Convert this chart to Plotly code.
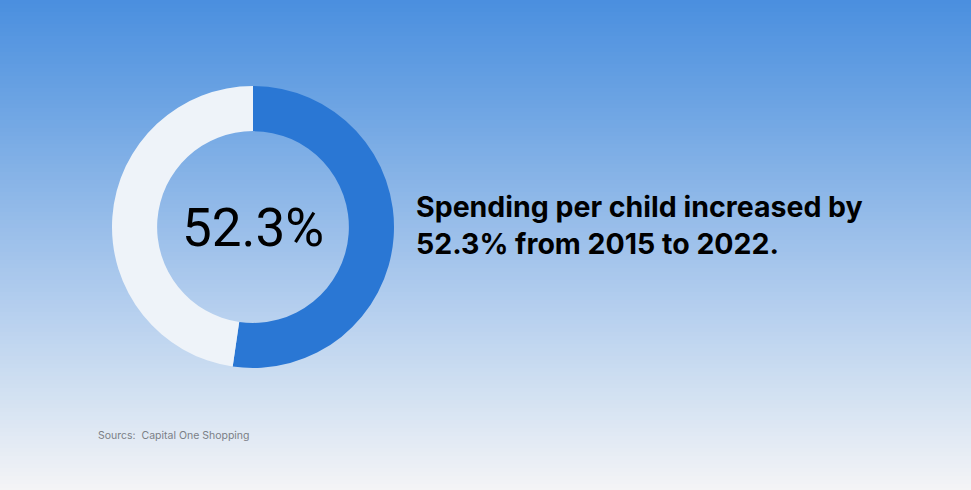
import plotly.graph_objects as go

labels = ["Increase", "Remainder"]
values = [52.3, 47.7]
colors = ["#2a77d4", "#eef3f9"]
center_label = "52.3%"
headline = "Spending per child increased by<br>52.3% from 2015 to 2022."
source = "Sourcs:  Capital One Shopping"

W, H = 971, 490

# background gradient stops (y pixel from top, rgb)
stops = [(0, (74, 143, 223)), (100, (107, 163, 227)), (200, (143, 184, 232)),
         (300, (178, 205, 238)), (400, (212, 226, 242)), (490, (244, 244, 246))]

def col_at(y):
    for (y0, c0), (y1, c1) in zip(stops[:-1], stops[1:]):
        if y0 <= y <= y1:
            t = (y - y0) / (y1 - y0)
            return "rgb(%d,%d,%d)" % tuple(round(a + (b - a) * t) for a, b in zip(c0, c1))
    return "rgb(%d,%d,%d)" % stops[-1][1]

shapes = []
step = 4
for y in range(0, H, step):
    shapes.append(dict(type="rect", xref="paper", yref="paper", layer="below",
                       x0=0, x1=1, y0=1 - (y + step) / H, y1=1 - y / H,
                       fillcolor=col_at(y + step / 2), line=dict(width=0)))

cx, cy, r = 253, 227, 141
fig = go.Figure(go.Pie(
    labels=labels, values=values, hole=0.68, sort=False, direction="clockwise",
    rotation=0, marker=dict(colors=colors, line=dict(width=0)),
    textinfo="none", hoverinfo="label+value",
    domain=dict(x=[(cx - r) / W, (cx + r) / W], y=[(H - cy - r) / H, (H - cy + r) / H]),
    showlegend=False,
))

fig.update_layout(
    width=W, height=H, margin=dict(l=0, r=0, t=0, b=0),
    paper_bgcolor="#f4f4f6", plot_bgcolor="rgba(0,0,0,0)",
    shapes=shapes,
    annotations=[
        dict(text=center_label, x=cx / W, y=1 - (cy + 1.5) / H, xref="paper", yref="paper",
             xanchor="center", yanchor="middle", showarrow=False,
             font=dict(family="Roboto", size=53, color="#000")),
        dict(text=headline, x=414 / W, y=1 - 225 / H, xref="paper", yref="paper",
             xanchor="left", yanchor="middle", align="left", showarrow=False,
             font=dict(family="Inter", size=28.5, color="#000", weight=700)),
        dict(text=source, x=96 / W, y=1 - 435 / H, xref="paper", yref="paper",
             xanchor="left", yanchor="middle", align="left", showarrow=False,
             font=dict(family="Inter", size=10.5, color="#7b7f86")),
    ],
)

fig.write_html("out.html")
